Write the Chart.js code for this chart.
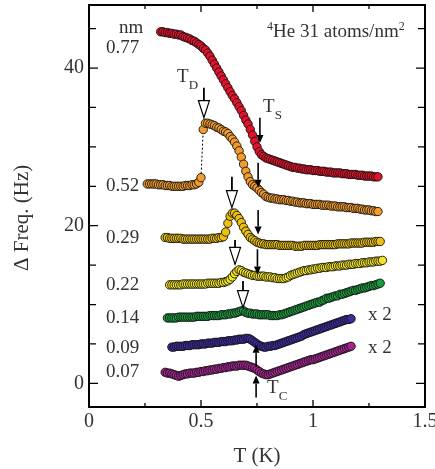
<!DOCTYPE html>
<html><head><meta charset="utf-8">
<script src="https://cdn.jsdelivr.net/npm/chart.js@4/dist/chart.umd.min.js"></script>
<style>html,body{margin:0;padding:0;background:#fff;}</style>
</head><body>
<canvas id="c" width="435" height="469"></canvas>
<script>
// ---------- data (T in K, frequency shift in Hz) ----------
const t077 = [0.32,0.33,0.34,0.35,0.36,0.37,0.38,0.39,0.40,0.41,0.42,0.43,0.44,0.45,0.46,0.47,0.48,0.49,0.50,0.51,0.52,0.53,0.54,0.55,0.56,0.57,0.58,0.59,0.60,0.61,0.62,0.63,0.64,0.65,0.66,0.67,0.68,0.69,0.70,0.71,0.72,0.73,0.74,0.75,0.76,0.77,0.78,0.79,0.80,0.81,0.82,0.83,0.84,0.85,0.86,0.87,0.88,0.89,0.90,0.91,0.92,0.93,0.94,0.95,0.96,0.97,0.98,0.99,1.00,1.01,1.02,1.03,1.04,1.05,1.06,1.07,1.08,1.09,1.10,1.11,1.12,1.13,1.14,1.15,1.16,1.17,1.18,1.19,1.20,1.21,1.22,1.23,1.24,1.25,1.26,1.27,1.28,1.29];
const f077 = [44.6,44.6,44.5,44.5,44.4,44.4,44.3,44.3,44.2,44.2,44.0,43.9,43.8,43.7,43.5,43.4,43.2,43.0,42.8,42.5,42.3,41.9,41.5,41.0,40.5,40.0,39.5,39.0,38.5,38.0,37.5,37.0,36.5,36.1,35.6,35.1,34.6,34.0,33.4,32.9,32.2,31.5,30.7,30.0,29.4,29.0,28.8,28.6,28.5,28.4,28.3,28.2,28.1,28.0,27.9,27.8,27.7,27.6,27.5,27.4,27.4,27.3,27.3,27.2,27.2,27.1,27.1,27.1,27.0,27.0,27.0,26.9,26.9,26.9,26.8,26.8,26.8,26.7,26.7,26.7,26.7,26.6,26.6,26.6,26.5,26.5,26.5,26.5,26.4,26.4,26.4,26.3,26.3,26.3,26.3,26.2,26.2,26.2];

const t052 = [0.26,0.27,0.28,0.29,0.30,0.31,0.32,0.33,0.34,0.35,0.36,0.37,0.38,0.39,0.40,0.41,0.42,0.43,0.44,0.45,0.46,0.47,0.48,0.49,0.50,0.51,0.52,0.53,0.54,0.55,0.56,0.57,0.58,0.59,0.60,0.61,0.62,0.63,0.64,0.65,0.66,0.67,0.68,0.69,0.70,0.71,0.72,0.73,0.74,0.75,0.76,0.77,0.78,0.79,0.80,0.81,0.82,0.83,0.84,0.85,0.86,0.87,0.88,0.89,0.90,0.91,0.92,0.93,0.94,0.95,0.96,0.97,0.98,0.99,1.00,1.01,1.02,1.03,1.04,1.05,1.06,1.07,1.08,1.09,1.10,1.11,1.12,1.13,1.14,1.15,1.16,1.17,1.18,1.19,1.20,1.21,1.22,1.23,1.24,1.25,1.26,1.27,1.28,1.29];
const f052 = [25.3,25.3,25.3,25.3,25.3,25.2,25.2,25.2,25.1,25.1,25.1,25.0,25.0,25.0,25.0,25.0,25.0,25.1,25.1,25.1,25.2,25.2,25.3,25.5,26.1,32.2,33.0,33.0,32.9,32.8,32.7,32.5,32.4,32.2,32.0,31.9,31.7,31.3,31.0,30.6,30.1,29.5,28.7,27.8,26.9,26.2,25.6,25.2,25.0,24.8,24.5,24.2,24.0,23.7,23.6,23.5,23.5,23.4,23.4,23.3,23.3,23.3,23.2,23.2,23.1,23.1,23.0,23.0,22.9,22.9,22.9,22.8,22.8,22.8,22.7,22.7,22.7,22.7,22.6,22.6,22.6,22.6,22.5,22.5,22.5,22.4,22.4,22.4,22.4,22.3,22.3,22.3,22.2,22.2,22.2,22.1,22.1,22.0,22.0,22.0,21.9,21.9,21.8,21.8];

const t029 = [0.34,0.35,0.36,0.37,0.38,0.39,0.40,0.41,0.42,0.43,0.44,0.45,0.46,0.47,0.48,0.49,0.50,0.51,0.52,0.53,0.54,0.55,0.56,0.57,0.58,0.59,0.60,0.61,0.62,0.63,0.64,0.65,0.66,0.67,0.68,0.69,0.70,0.71,0.72,0.73,0.74,0.75,0.76,0.77,0.78,0.79,0.80,0.81,0.82,0.83,0.84,0.85,0.86,0.87,0.88,0.89,0.90,0.91,0.92,0.93,0.94,0.95,0.96,0.97,0.98,0.99,1.00,1.01,1.02,1.03,1.04,1.05,1.06,1.07,1.08,1.09,1.10,1.11,1.12,1.13,1.14,1.15,1.16,1.17,1.18,1.19,1.20,1.21,1.22,1.23,1.24,1.25,1.26,1.27,1.28,1.29,1.30];
const f029 = [18.5,18.5,18.4,18.4,18.4,18.4,18.4,18.4,18.3,18.3,18.3,18.3,18.3,18.3,18.3,18.3,18.3,18.3,18.3,18.3,18.3,18.4,18.4,18.4,18.5,18.5,18.6,19.2,20.3,21.2,21.6,21.6,21.3,20.9,20.4,19.8,19.3,18.9,18.5,18.3,18.1,17.9,17.8,17.7,17.7,17.6,17.6,17.6,17.6,17.6,17.6,17.5,17.5,17.5,17.5,17.5,17.5,17.5,17.4,17.4,17.4,17.4,17.5,17.5,17.5,17.5,17.5,17.5,17.5,17.6,17.6,17.6,17.6,17.6,17.6,17.6,17.6,17.7,17.7,17.7,17.7,17.7,17.7,17.8,17.8,17.8,17.8,17.8,17.8,17.9,17.9,17.9,17.9,17.9,18.0,18.0,18.0];

const t022 = [0.36,0.37,0.38,0.39,0.40,0.41,0.42,0.43,0.44,0.45,0.46,0.47,0.48,0.49,0.50,0.51,0.52,0.53,0.54,0.55,0.56,0.57,0.58,0.59,0.60,0.61,0.62,0.63,0.64,0.65,0.66,0.67,0.68,0.69,0.70,0.71,0.72,0.73,0.74,0.75,0.76,0.77,0.78,0.79,0.80,0.81,0.82,0.83,0.84,0.85,0.86,0.87,0.88,0.89,0.90,0.91,0.92,0.93,0.94,0.95,0.96,0.97,0.98,0.99,1.00,1.01,1.02,1.03,1.04,1.05,1.06,1.07,1.08,1.09,1.10,1.11,1.12,1.13,1.14,1.15,1.16,1.17,1.18,1.19,1.20,1.21,1.22,1.23,1.24,1.25,1.26,1.27,1.28,1.29,1.30,1.31];
const f022 = [12.5,12.5,12.5,12.5,12.5,12.5,12.6,12.6,12.6,12.6,12.6,12.6,12.6,12.6,12.6,12.6,12.6,12.7,12.7,12.7,12.7,12.7,12.7,12.8,12.8,12.9,13.0,13.2,13.5,13.9,14.2,14.4,14.3,14.1,14.0,13.9,13.8,13.7,13.7,13.6,13.6,13.6,13.6,13.5,13.5,13.5,13.4,13.4,13.3,13.3,13.3,13.3,13.4,13.5,13.7,13.8,13.9,14.0,14.1,14.2,14.3,14.3,14.4,14.4,14.5,14.5,14.6,14.6,14.7,14.7,14.7,14.8,14.8,14.8,14.9,14.9,14.9,15.0,15.0,15.0,15.1,15.1,15.1,15.2,15.2,15.2,15.3,15.3,15.3,15.4,15.4,15.4,15.5,15.5,15.5,15.6];

const t014 = [0.35,0.36,0.37,0.38,0.39,0.40,0.41,0.42,0.43,0.44,0.45,0.46,0.47,0.48,0.49,0.50,0.51,0.52,0.53,0.54,0.55,0.56,0.57,0.58,0.59,0.60,0.61,0.62,0.63,0.64,0.65,0.66,0.67,0.68,0.69,0.70,0.71,0.72,0.73,0.74,0.75,0.76,0.77,0.78,0.79,0.80,0.81,0.82,0.83,0.84,0.85,0.86,0.87,0.88,0.89,0.90,0.91,0.92,0.93,0.94,0.95,0.96,0.97,0.98,0.99,1.00,1.01,1.02,1.03,1.04,1.05,1.06,1.07,1.08,1.09,1.10,1.11,1.12,1.13,1.14,1.15,1.16,1.17,1.18,1.19,1.20,1.21,1.22,1.23,1.24,1.25,1.26,1.27,1.28,1.29,1.30];
const f014 = [8.3,8.3,8.3,8.3,8.3,8.4,8.4,8.4,8.4,8.4,8.4,8.4,8.4,8.5,8.5,8.5,8.5,8.5,8.5,8.6,8.6,8.6,8.6,8.6,8.7,8.7,8.7,8.8,8.8,8.9,8.9,9.0,9.1,9.2,9.2,9.0,8.9,8.9,8.8,8.8,8.8,8.7,8.7,8.7,8.7,8.7,8.6,8.6,8.6,8.6,8.7,8.7,8.8,8.9,9.0,9.1,9.2,9.3,9.4,9.5,9.6,9.7,9.8,9.9,10.0,10.1,10.2,10.3,10.3,10.5,10.6,10.8,10.8,10.9,11.0,11.1,11.1,11.3,11.3,11.4,11.5,11.6,11.7,11.8,11.8,11.9,12.0,12.1,12.1,12.2,12.3,12.4,12.4,12.5,12.6,12.7];

const t009 = [0.37,0.38,0.39,0.40,0.41,0.42,0.43,0.44,0.45,0.46,0.47,0.48,0.49,0.50,0.51,0.52,0.53,0.54,0.55,0.56,0.57,0.58,0.59,0.60,0.61,0.62,0.63,0.64,0.65,0.66,0.67,0.68,0.69,0.70,0.71,0.72,0.73,0.74,0.75,0.76,0.77,0.78,0.79,0.80,0.81,0.82,0.83,0.84,0.85,0.86,0.87,0.88,0.89,0.90,0.91,0.92,0.93,0.94,0.95,0.96,0.97,0.98,0.99,1.00,1.01,1.02,1.03,1.04,1.05,1.06,1.07,1.08,1.09,1.10,1.11,1.12,1.13,1.14,1.15,1.16,1.17];
const f009 = [4.6,4.6,4.7,4.7,4.7,4.7,4.8,4.8,4.8,4.9,4.9,4.9,4.9,5.0,5.0,5.0,5.1,5.1,5.1,5.2,5.2,5.2,5.3,5.3,5.3,5.4,5.4,5.4,5.5,5.5,5.6,5.6,5.6,5.7,5.7,5.6,5.4,5.2,5.0,4.8,4.7,4.6,4.6,4.7,4.7,4.8,4.8,4.9,5.0,5.1,5.2,5.3,5.4,5.5,5.6,5.7,5.8,5.9,6.0,6.2,6.3,6.4,6.5,6.6,6.7,6.8,6.9,7.0,7.1,7.2,7.3,7.4,7.5,7.6,7.7,7.8,7.9,8.0,8.1,8.1,8.2];

const t007 = [0.34,0.35,0.36,0.37,0.38,0.39,0.40,0.41,0.42,0.43,0.44,0.45,0.46,0.47,0.48,0.49,0.50,0.51,0.52,0.53,0.54,0.55,0.56,0.57,0.58,0.59,0.60,0.61,0.62,0.63,0.64,0.65,0.66,0.67,0.68,0.69,0.70,0.71,0.72,0.73,0.74,0.75,0.76,0.77,0.78,0.79,0.80,0.81,0.82,0.83,0.84,0.85,0.86,0.87,0.88,0.89,0.90,0.91,0.92,0.93,0.94,0.95,0.96,0.97,0.98,0.99,1.00,1.01,1.02,1.03,1.04,1.05,1.06,1.07,1.08,1.09,1.10,1.11,1.12,1.13,1.14,1.15,1.16,1.17];
const f007 = [1.4,1.3,1.3,1.2,1.1,1.0,0.9,1.0,1.1,1.2,1.2,1.3,1.3,1.3,1.4,1.4,1.5,1.5,1.6,1.6,1.7,1.7,1.8,1.8,1.9,1.9,2.0,2.0,2.1,2.1,2.2,2.2,2.2,2.3,2.3,2.3,2.3,2.2,2.1,2.0,1.9,1.7,1.5,1.3,1.2,1.1,1.1,1.2,1.3,1.4,1.5,1.6,1.7,1.8,1.9,2.0,2.1,2.2,2.3,2.4,2.5,2.6,2.7,2.8,2.9,3.0,3.0,3.1,3.2,3.3,3.4,3.5,3.6,3.7,3.8,3.9,4.0,4.1,4.2,4.3,4.4,4.5,4.6,4.7];

const seriesNames = ['0.77','0.52','0.29','0.22','0.14','0.09','0.07'];
const xMajor = [0, 0.5, 1, 1.5];
const xMinor = [0.25, 0.75, 1.25];
const yMajor = [0, 20, 40];
const yMinor = [5, 10, 15, 25, 30, 35, 45];

// ---------- styling ----------
const colors = ['#e3122c','#f39c2c','#ecc10c','#f3e51f','#1c9a3e','#3c2d9c','#a3258f'];
const FONT = "'Liberation Serif','Times New Roman',serif";
const TXT = '#333';

// annotations (data coordinates)
const labelAnchors = [ // text, T, F (left, baseline)
  ['nm',0.134,44.4],['0.77',0.076,41.9],['0.52',0.076,24.4],['0.29',0.076,17.8],
  ['0.22',0.076,11.9],['0.14',0.076,7.6],['0.09',0.076,3.9],['0.07',0.076,0.75],
  ['x 2',1.246,8.1],['x 2',1.246,3.9]
];
const solidDown = [[0.763,33.7,30.5],[0.755,28.0,24.8],[0.755,22.0,18.9],[0.752,17.0,13.8]];
const openDown = [[0.513,37.5,33.7],[0.638,26.2,22.3],[0.652,18.2,15.1],[0.6875,13.0,9.6]];
const solidUp = [[0.746,2.15,4.9],[0.746,-1.8,1.0]];

const pts = (t,f) => t.map((x,i)=>({x, y:f[i]}));
const all = [[t077,f077],[t052,f052],[t029,f029],[t022,f022],[t014,f014],[t009,f009],[t007,f007]];
const datasets = all.map((s,i)=>({
  label: seriesNames[i], data: pts(s[0],s[1]), showLine:false,
  pointRadius:4.2, pointBackgroundColor:colors[i], pointBorderColor:'#111', pointBorderWidth:0.9, order:i
}));
const jump = t052.indexOf(0.50);
datasets.push({label:'jump', data:[{x:t052[jump],y:f052[jump]},{x:t052[jump+1],y:f052[jump+1]}],
  showLine:true, borderColor:'#000', borderWidth:1, borderDash:[2,2], pointRadius:0, order:20});

function richText(ctx, parts, x, y){
  let cx = x;
  parts.forEach(p=>{
    const size = p[1]||19, dy = p[2]||0;
    ctx.font = size+'px '+FONT;
    ctx.fillText(p[0], cx, y+dy);
    cx += ctx.measureText(p[0]).width;
  });
}

const decor = {
  id:'decor',
  afterDatasetsDraw(chart){
    const {ctx, chartArea:a, scales:{x,y}} = chart;
    ctx.save();
    ctx.strokeStyle='#000'; ctx.fillStyle='#000';
    ctx.lineWidth=1.3; ctx.beginPath();
    const xt=(v,l)=>{const p=x.getPixelForValue(v);ctx.moveTo(p,a.bottom);ctx.lineTo(p,a.bottom-l);ctx.moveTo(p,a.top);ctx.lineTo(p,a.top+l);};
    const yt=(v,l)=>{const p=y.getPixelForValue(v);ctx.moveTo(a.left,p);ctx.lineTo(a.left+l,p);ctx.moveTo(a.right,p);ctx.lineTo(a.right-l,p);};
    xMajor.forEach(v=>xt(v,7)); xMinor.forEach(v=>xt(v,4));
    yMajor.forEach(v=>yt(v,9)); yMinor.forEach(v=>yt(v,7));
    ctx.stroke();
    ctx.lineWidth=2; ctx.strokeRect(a.left,a.top,a.right-a.left,a.bottom-a.top);
    const hlS=8, hwS=3.5, hlO=17, hwO=5.5;
    ctx.lineWidth=1.6;
    solidDown.concat(solidUp).forEach(([t,f1,f2])=>{
      const px=x.getPixelForValue(t), y1=y.getPixelForValue(f1), y2=y.getPixelForValue(f2);
      const d=Math.sign(y2-y1);
      ctx.beginPath(); ctx.moveTo(px,y1); ctx.lineTo(px,y2-d*hlS); ctx.stroke();
      ctx.beginPath(); ctx.moveTo(px,y2); ctx.lineTo(px-hwS,y2-d*hlS); ctx.lineTo(px+hwS,y2-d*hlS); ctx.closePath(); ctx.fill();
    });
    openDown.forEach(([t,f1,f2])=>{
      const px=x.getPixelForValue(t), y1=y.getPixelForValue(f1), y2=y.getPixelForValue(f2);
      const d=Math.sign(y2-y1);
      ctx.lineWidth=1.8;
      ctx.beginPath(); ctx.moveTo(px,y1); ctx.lineTo(px,y2-d*hlO); ctx.stroke();
      ctx.beginPath(); ctx.moveTo(px,y2); ctx.lineTo(px-hwO,y2-d*hlO); ctx.lineTo(px+hwO,y2-d*hlO); ctx.closePath();
      ctx.fillStyle='#fff'; ctx.fill(); ctx.lineWidth=1.2; ctx.stroke(); ctx.fillStyle='#000';
    });
    ctx.fillStyle=TXT; ctx.textBaseline='alphabetic'; ctx.textAlign='left';
    labelAnchors.forEach(([s,t,f])=>richText(ctx,[[s,19]],x.getPixelForValue(t),y.getPixelForValue(f)));
    richText(ctx,[['4',12,-7],['He 31 atoms/nm',19],['2',12,-7]],x.getPixelForValue(0.795),y.getPixelForValue(44.0));
    richText(ctx,[['T',19],['D',13,7]],x.getPixelForValue(0.393),y.getPixelForValue(38.2));
    richText(ctx,[['T',19],['S',13,7]],x.getPixelForValue(0.777),y.getPixelForValue(34.4));
    richText(ctx,[['T',19],['C',13,7]],x.getPixelForValue(0.795),y.getPixelForValue(-1.2));
    ctx.save();
    ctx.translate(22, y.getPixelForValue(21));
    ctx.rotate(-Math.PI/2);
    ctx.textAlign='center'; ctx.textBaseline='middle';
    ctx.font='21px '+FONT;
    ctx.fillText('\u0394 Freq. (Hz)',0,0);
    ctx.restore();
    ctx.restore();
  }
};

new Chart(document.getElementById('c'), {
  type:'scatter',
  data:{datasets},
  options:{
    responsive:false, animation:false, devicePixelRatio:1,
    layout:{padding:{top:5,right:10,left:0,bottom:0}, autoPadding:false},
    plugins:{legend:{display:false}, tooltip:{enabled:false}},
    scales:{
      x:{type:'linear', min:0, max:1.5,
        afterBuildTicks:s=>{s.ticks=xMajor.map(v=>({value:v}));},
        afterFit:s=>{s.height=62; s.paddingLeft=0; s.paddingRight=0; s.paddingTop=0; s.paddingBottom=0;},
        ticks:{callback:v=>String(v), font:{family:FONT,size:20}, color:TXT, padding:3, maxRotation:0, autoSkip:false},
        grid:{display:false, drawTicks:false}, border:{display:false},
        title:{display:true, text:'T (K)', font:{family:FONT,size:21}, color:TXT, padding:{top:3,bottom:0}}
      },
      y:{type:'linear', min:-3, max:48,
        afterBuildTicks:s=>{s.ticks=yMajor.map(v=>({value:v}));},
        afterFit:s=>{s.width=89; s.paddingLeft=0; s.paddingRight=0; s.paddingTop=0; s.paddingBottom=0;},
        ticks:{callback:v=>String(v), font:{family:FONT,size:20}, color:TXT, padding:5, autoSkip:false},
        grid:{display:false, drawTicks:false}, border:{display:false}
      }
    }
  },
  plugins:[decor]
});
</script>
</body></html>
